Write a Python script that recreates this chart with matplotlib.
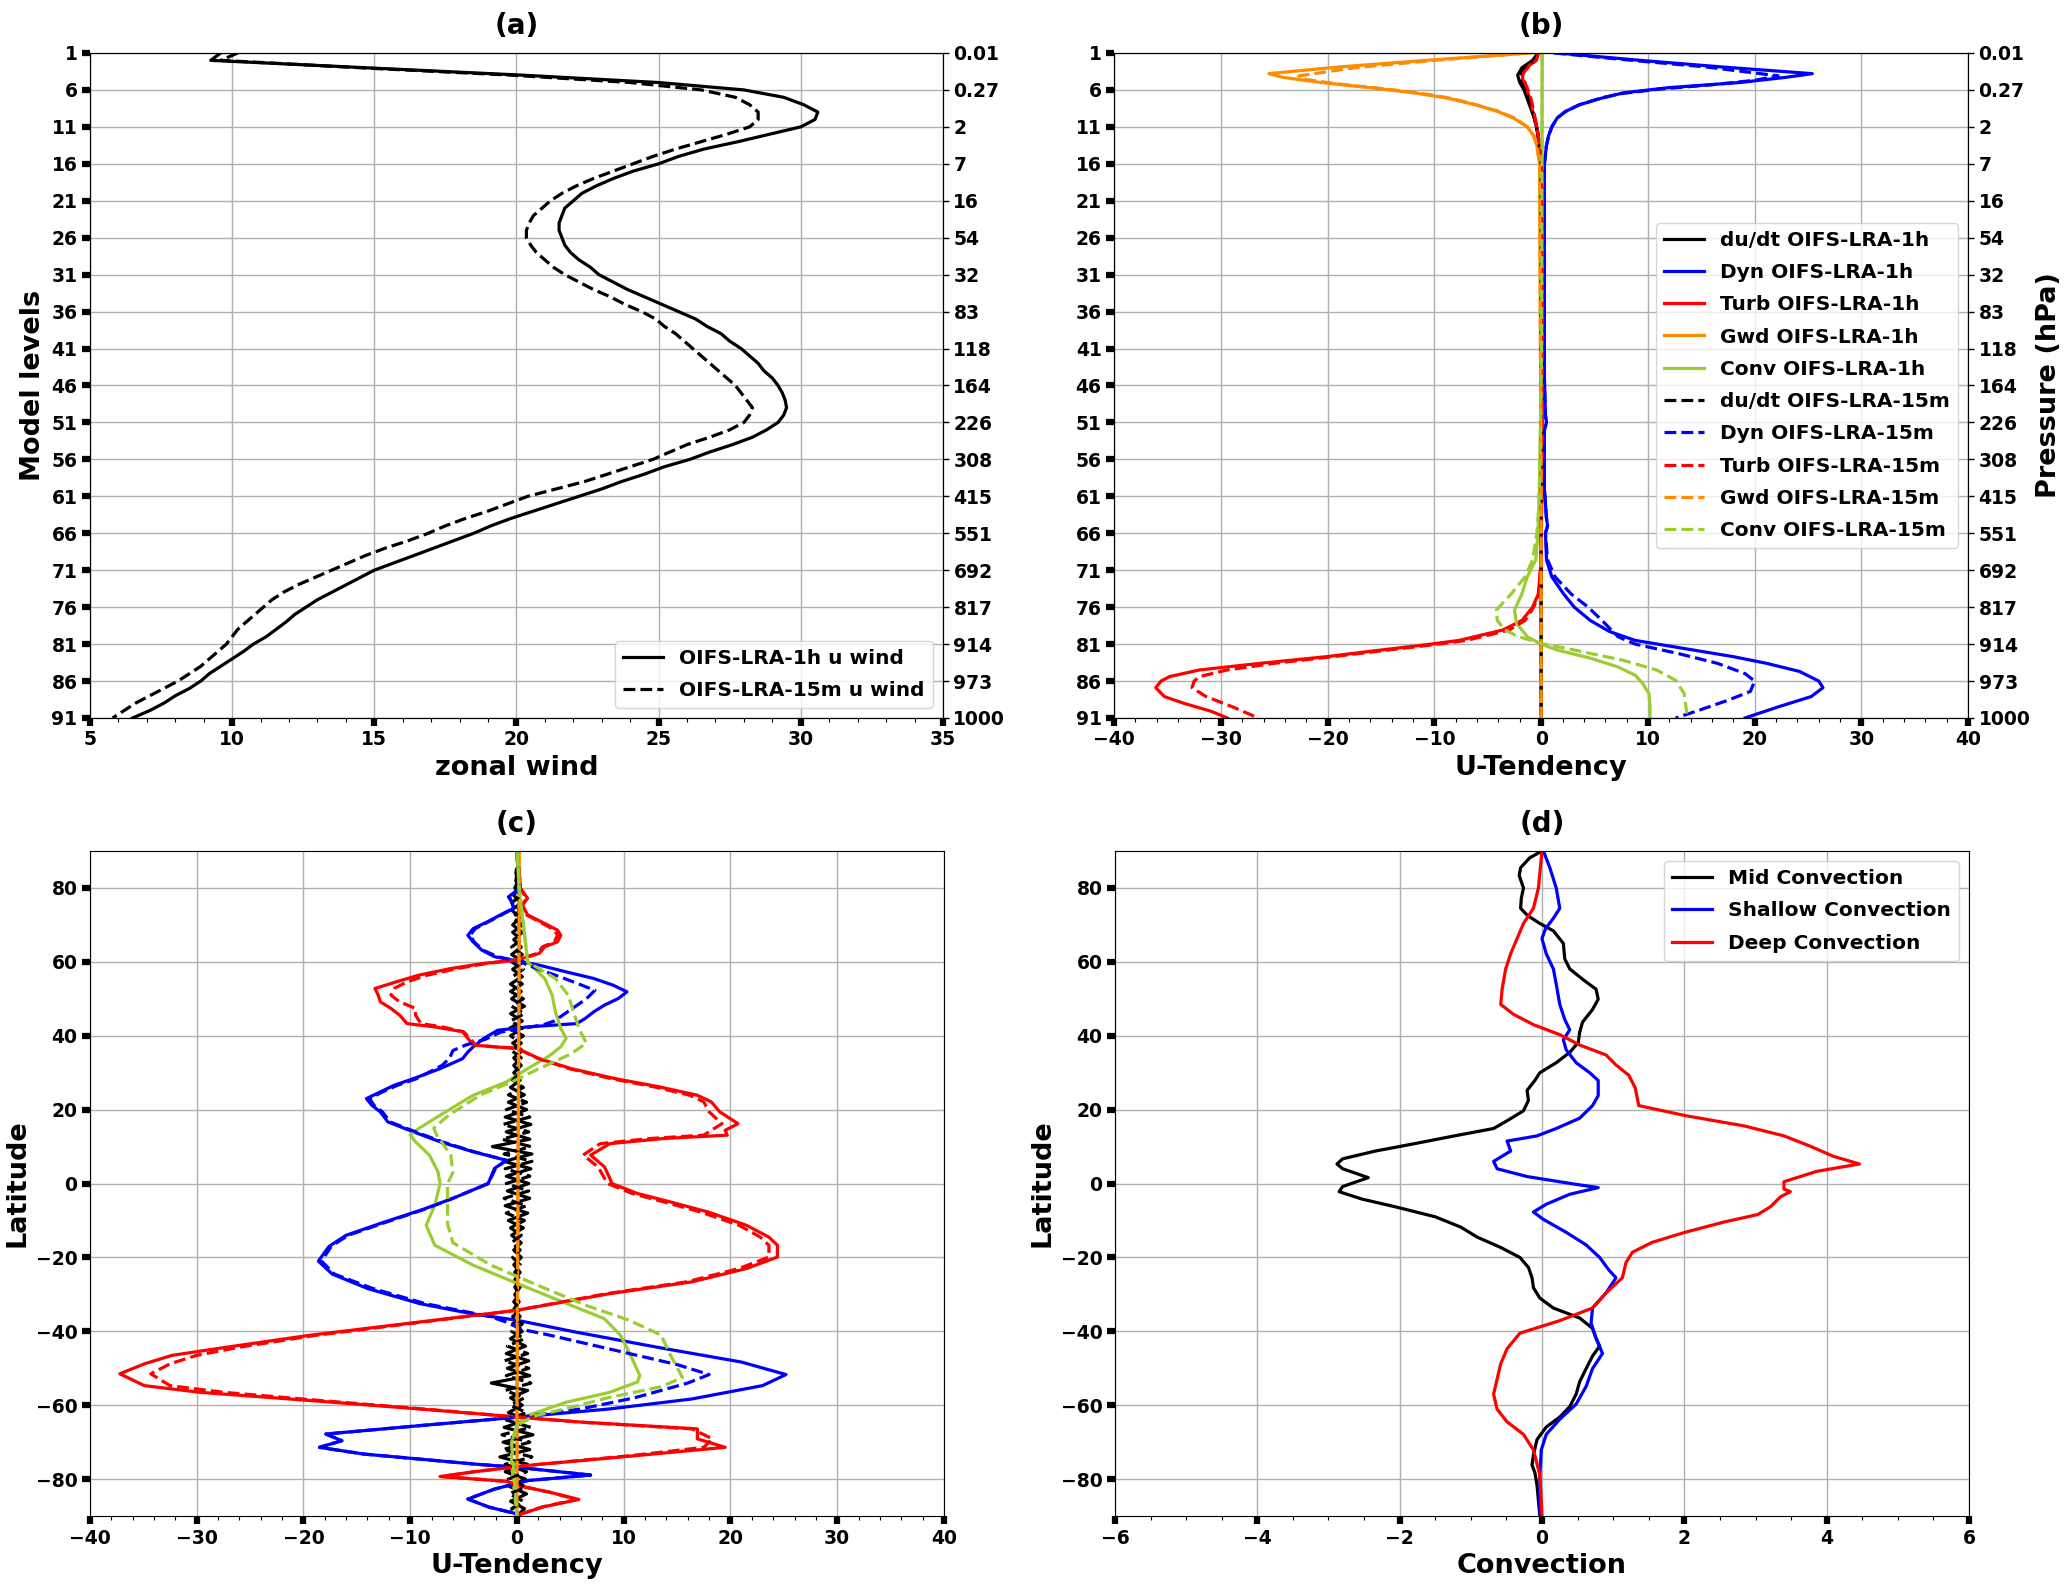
import numpy as np
import matplotlib
matplotlib.use('Agg')
import matplotlib.pyplot as plt
from matplotlib.ticker import AutoMinorLocator

plt.rcParams['font.family'] = ['DejaVu Sans']
plt.rcParams['font.weight'] = 'bold'
plt.rcParams['axes.labelweight'] = 'bold'
plt.rcParams['axes.titleweight'] = 'bold'

# ---------------- panel (a): zonal wind profile ----------------
lev_1h = list(range(1, 92))
u_1h = [9.6, 9.25, 14.7, 20.2, 25.0, 28.0, 29.4, 30.1, 30.6, 30.5,
        30.0, 28.9, 27.8, 26.6, 25.7, 25.0, 24.1, 23.4, 22.8, 22.3,
        22.0, 21.7, 21.6, 21.5, 21.5, 21.6, 21.7, 21.9, 22.2, 22.6,
        22.9, 23.4, 23.9, 24.5, 25.1, 25.7, 26.3, 26.7, 27.2, 27.5,
        27.9, 28.2, 28.5, 28.7, 29.0, 29.2, 29.35, 29.45, 29.5, 29.4,
        29.2, 28.8, 28.3, 27.6, 26.8, 26.1, 25.2, 24.5, 23.7, 23.0,
        22.2, 21.4, 20.6, 19.8, 19.1, 18.5, 17.8, 17.1, 16.4, 15.7,
        15.0, 14.5, 14.0, 13.5, 13.0, 12.6, 12.2, 11.9, 11.55, 11.2,
        10.75, 10.4, 10.0, 9.6, 9.2, 8.9, 8.5, 8.0, 7.6, 7.1, 6.5]
u_15m = [10.2, 9.6, 14.5, 19.8, 24.0, 26.5, 27.7, 28.2, 28.5, 28.5,
         28.2, 27.4, 26.5, 25.6, 24.8, 24.1, 23.4, 22.7, 22.1, 21.6,
         21.2, 20.9, 20.6, 20.45, 20.35, 20.35, 20.5, 20.7, 21.0, 21.3,
         21.7, 22.2, 22.7, 23.3, 23.8, 24.4, 24.9, 25.2, 25.6, 25.9,
         26.2, 26.5, 26.8, 27.1, 27.4, 27.7, 27.9, 28.1, 28.3, 28.2,
         28.0, 27.5, 26.8, 26.0, 25.4, 24.8, 24.0, 23.2, 22.4, 21.4,
         20.4, 19.7, 19.0, 18.2, 17.5, 16.9, 16.2, 15.4, 14.7, 14.1,
         13.5, 12.9, 12.3, 11.8, 11.4, 11.1, 10.8, 10.5, 10.2, 10.0,
         9.8, 9.5, 9.2, 8.9, 8.5, 8.1, 7.6, 7.1, 6.6, 6.2, 5.8]

level_ticks = list(range(1, 92, 5))
pressure_labels = ['0.01', '0.27', '2', '7', '16', '54', '32', '83', '118', '164',
                   '226', '308', '415', '551', '692', '817', '914', '973', '1000']

# ---------------- panel (b): U-tendency vertical profiles ----------------
dudt_lev_1h = [1, 2, 3, 4, 5, 6, 8, 10, 12, 16, 91]
dudt_1h = [-0.3, -0.8, -1.8, -2.2, -2.0, -1.6, -1.1, -0.6, -0.3, 0.0, 0.0]
dudt_lev_15m = [1, 2, 3, 4, 5, 6, 8, 10, 12, 16, 91]
dudt_15m = [-0.3, -0.7, -1.6, -2.0, -1.9, -1.5, -1.0, -0.6, -0.3, 0.0, 0.0]

dyn_lev_1h = [1, 2, 2.9, 3.8, 4.3, 5, 5.7, 6.4, 7.1, 8, 8.9, 9.8, 11, 12.2, 13.5, 16,
              30, 45, 50, 51, 52, 60, 64, 65, 66, 69.6, 71.9, 74.2, 76, 77.8, 79.3,
              80.5, 81.6, 82.7, 83.6, 84.7, 86, 86.9, 88.1, 89.5, 91]
dyn_1h = [1.5, 9.3, 17.0, 25.4, 22.9, 18.6, 11.9, 7.7, 5.7, 3.6, 2.3, 1.5, 1.0, 0.7, 0.5, 0.3,
          0.3, 0.3, 0.4, 0.5, 0.3, 0.3, 0.5, 0.6, 0.4, 0.5, 1.0, 2.1, 3.1, 4.6, 6.4,
          8.8, 13.4, 18.0, 21.1, 24.2, 26.0, 26.4, 25.3, 22.2, 19.1]
dyn_lev_15m = [1, 2, 2.9, 4.1, 4.7, 5.3, 5.9, 6.5, 7.1, 8, 8.9, 9.8, 11, 12.2, 13.5, 16,
               30, 45, 50, 51, 52, 60, 64, 65, 66, 69.6, 71.9, 74.2, 76, 77.8, 80,
               81, 82.3, 83.6, 85, 86, 87.4, 88.6, 89.9, 91]
dyn_15m = [1.2, 8.5, 15.5, 22.2, 20.0, 16.0, 11.0, 7.5, 5.6, 3.6, 2.3, 1.5, 1.0, 0.7, 0.5, 0.3,
           0.3, 0.3, 0.4, 0.5, 0.3, 0.3, 0.5, 0.6, 0.4, 0.6, 1.3, 2.8, 4.4, 5.7, 7.2,
           8.8, 12.9, 16.5, 19.1, 20.0, 19.6, 17.5, 14.9, 12.6]

turb_lev_1h = [1, 2, 2.9, 3.8, 4.7, 6.1, 7.5, 8.9, 11, 13.5, 16, 30, 50, 60, 69.6, 74.2,
               76, 77.8, 79.1, 80.5, 81, 81.8, 82.7, 83.6, 84.5, 85.4, 86, 86.9, 88.1,
               89, 90.1, 91]
turb_1h = [-0.26, -0.5, -1.3, -1.8, -1.7, -1.3, -1.0, -0.8, -0.4, -0.15, 0.0, 0.1, 0.1, 0.05,
           0.0, -0.26, -0.8, -1.8, -3.6, -7.7, -10.3, -15.0, -20.1, -26.3, -32.0, -34.8,
           -35.6, -36.1, -35.3, -33.5, -30.9, -29.4]
turb_lev_15m = [1, 2, 2.9, 3.8, 4.7, 6.1, 7.5, 8.9, 11, 13.5, 16, 30, 50, 60, 69.6, 74.2,
                76, 77.8, 79.1, 80.5, 81, 81.8, 82.7, 83.6, 84.5, 85.4, 86, 86.9, 88.1,
                89.5, 91]
turb_15m = [-0.25, -0.45, -1.2, -1.7, -1.6, -1.2, -0.9, -0.7, -0.4, -0.15, 0.0, 0.1, 0.1, 0.05,
            0.0, -0.2, -0.7, -1.5, -3.0, -7.0, -9.6, -14.3, -19.5, -25.0, -29.4, -32.0,
            -32.5, -32.7, -31.4, -28.9, -26.5]

gwd_lev_1h = [1, 2, 2.9, 3.8, 4.3, 5, 5.7, 6.4, 7.1, 8, 8.9, 9.8, 11, 12.2, 13.5, 16, 30, 60, 91]
gwd_1h = [-1.0, -10.8, -19.0, -25.5, -24.2, -20.6, -16.0, -11.9, -8.8, -6.2, -4.1, -2.6,
          -1.3, -0.7, -0.4, -0.15, -0.1, 0.0, 0.0]
gwd_lev_15m = [1, 2, 3, 4.1, 4.6, 5.2, 5.8, 6.4, 7.1, 8, 8.9, 9.8, 11, 12.2, 13.5, 16, 30, 60, 91]
gwd_15m = [-1.2, -10.0, -17.5, -22.7, -22.0, -19.0, -15.0, -11.5, -8.6, -6.1, -4.0, -2.5,
           -1.3, -0.7, -0.4, -0.15, -0.1, 0.0, 0.0]

conv_lev_1h = [1, 40, 55, 62, 66, 69.6, 71.9, 74.2, 76.4, 78.2, 80, 81, 81.8, 82.9, 84.1,
               85.2, 86.3, 87.7, 89.5, 91]
conv_1h = [0.1, 0.05, -0.1, -0.2, -0.3, -0.5, -1.3, -1.8, -2.5, -2.3, -1.3, 0.0, 1.5, 4.6,
           7.2, 8.8, 9.5, 10.1, 10.2, 10.2]
conv_lev_15m = [1, 40, 55, 62, 66, 69.6, 71.9, 74.2, 76.4, 77.8, 79.1, 80, 80.9, 81.8, 83.2,
                84.5, 85.9, 87.7, 91]
conv_15m = [0.1, 0.05, -0.1, -0.2, -0.4, -0.8, -1.5, -2.8, -4.2, -4.1, -3.4, -2.1, 0.0, 3.1,
            7.7, 10.8, 12.6, 13.4, 13.7]

# ---------------- panel (c): U-tendency vs latitude ----------------
dudt_lat = list(range(90, -91, -2))
dudt_lat_1h = [0.0, 0.0, 0.1, 0.0, -0.1, 0.1, -0.3, 0.4, -0.5, 0.3,
               -0.4, 0.5, -0.3, 0.4, -0.5, 0.6, -0.4, 0.5, -0.6, 0.4,
               -0.5, 0.7, -0.6, 0.5, -0.7, 0.6, -0.4, 0.5, -0.3, 0.4,
               -0.3, 0.3, -0.6, 0.7, -0.8, 0.9, -1.1, 1.3, -1.0, 1.2,
               -2.3, 1.4, -1.2, 1.3, -1.0, 1.1, -0.9, 1.2, -1.1, 1.0,
               -0.8, 0.6, -0.5, 0.4, -0.3, 0.4, -0.3, 0.3, -0.2, 0.3,
               -0.2, 0.2, -0.3, 0.3, -0.4, 0.5, -0.6, 0.8, -1.0, 1.1,
               -0.9, 1.2, -2.4, 1.0, -0.6, 0.5, -0.8, 0.9, -1.2, 1.5,
               -1.3, 1.2, -1.6, 1.0, -1.1, 0.8, -0.7, 0.9, -0.6, 0.7, 0.0]
dudt_lat_15m = [0.0, 0.1, 0.0, -0.1, 0.1, -0.2, 0.4, -0.5, 0.3, -0.4,
                0.5, -0.4, 0.4, -0.5, 0.5, -0.5, 0.6, -0.4, 0.5, -0.6,
                0.6, -0.5, 0.7, -0.6, 0.5, -0.6, 0.4, -0.5, 0.4, -0.3,
                0.3, -0.4, 0.6, -0.8, 0.9, -1.0, 1.2, -1.3, 1.1, -1.4,
                1.3, -1.2, 1.4, -1.1, 1.2, -1.0, 1.1, -1.2, 0.9, -1.0,
                0.7, -0.6, 0.4, -0.5, 0.3, -0.4, 0.3, -0.2, 0.3, -0.2,
                0.2, -0.3, 0.3, -0.4, 0.5, -0.5, 0.7, -0.9, 1.0, -1.2,
                1.1, -1.0, 1.3, -1.1, 0.7, -0.6, 0.9, -1.0, 1.3, -1.4,
                1.2, -1.3, 1.4, -1.1, 0.9, -0.8, 0.8, -0.7, 0.6, -0.5, 0.0]

dyn_lat_1h = [90, 85, 80, 77.6, 76.3, 74.5, 73.1, 70.8, 69, 67.2, 65.4, 63.2, 61.4, 60,
              59.1, 57.3, 55.5, 53.7, 51.9, 50.1, 48.3, 46.5, 44.7, 43.3, 42.4, 41.5,
              39.3, 37, 35.6, 33.8, 31.1, 28.4, 26.6, 24.8, 23, 21.2, 19.4, 16.7, 14,
              11.3, 8.6, 6.3, 4.1, 0, -4, -7, -10.5, -14, -17, -21, -24.5, -28.4,
              -32.5, -35.2, -37, -40.2, -44.5, -48.3, -51.7, -54.7, -58.3, -61, -63,
              -65.5, -67.8, -69.6, -71.4, -73.2, -75.9, -76.8, -78.9, -80.4, -82.7,
              -85.4, -87.6, -89.4, -90]
dyn_c_1h = [0.0, 0.2, 0.3, -0.8, -0.5, -0.3, -1.3, -2.8, -4.1, -4.6, -4.1, -3.3, -2.1, 0.5,
            2.1, 4.6, 7.2, 9.0, 10.3, 9.5, 8.2, 7.2, 6.4, 5.6, 1.0, -1.8,
            -3.1, -4.1, -4.6, -5.1, -7.2, -9.7, -11.5, -12.8, -14.1, -13.6, -12.8, -12.1, -9.7,
            -7.2, -4.1, -1.0, -2.1, -2.7, -6.0, -8.8, -12.5, -16.0, -17.6, -18.6, -17.3, -14.0,
            -9.1, -4.3, 0.0, 5.5, 13.5, 21.0, 25.2, 23.0, 16.4, 8.7, 1.0,
            -9.0, -17.9, -16.4, -18.5, -14.4, -4.1, 0.0, 6.9, 1.0, -2.1,
            -4.6, -2.6, 0.0, 0.0]
dyn_lat_15m = [90, 85, 80, 77.6, 76.3, 74.5, 73.1, 70.8, 69, 67.2, 65.4, 63.2, 61.4, 60,
               58, 56, 54, 52.3, 50, 48, 46, 44, 43, 42, 41, 39, 37.5, 36, 34, 32,
               28.4, 26.6, 24.8, 23, 21.2, 19.4, 16.7, 14, 11.3, 8.6, 6.3, 4.1, 0, -4,
               -7, -10.5, -14, -17, -21, -24.5, -28.4, -32.5, -36, -37.5, -39.5, -41,
               -45, -49, -51.7, -54, -58, -61, -63, -65.5, -67.8, -69.6, -71.4, -73.2,
               -75.9, -76.8, -78.9, -80.4, -82.7, -85.4, -87.6, -89.4, -90]
dyn_c_15m = [0.0, 0.2, 0.3, -0.7, -0.5, -0.3, -1.2, -2.7, -3.9, -4.4, -4.0, -3.2, -1.8, 0.3,
             2.0, 4.0, 5.8, 7.3, 6.5, 5.5, 4.5, 3.5, 2.5, 0.5, -1.5, -3.0, -4.8, -6.0, -6.3,
             -7.0, -9.4, -11.2, -12.6, -13.8, -13.4, -12.6, -11.9, -9.5, -7.0, -4.0, -1.0,
             -2.0, -2.7, -6.0, -8.7, -12.3, -15.8, -17.4, -18.3, -17.1, -13.5, -8.6, -2.5,
             -1.0, 0.5, 3.0, 9.0, 15.0, 18.0, 16.0, 11.0, 6.0, 1.0, -9.0, -17.9, -16.4,
             -18.5, -14.4, -4.1, 0.0, 6.9, 1.0, -2.1, -4.6, -2.6, 0.0, 0.0]

turb_lat_1h = [90, 80, 77.2, 75.4, 72.7, 70.4, 68.6, 67.2, 65.4, 64.1, 62.3, 60.5, 59.6,
               58.2, 56.4, 54.6, 52.8, 51, 49.2, 47.4, 45.6, 43.3, 42.4, 41.1, 39.3,
               37.5, 37, 36.6, 33.8, 31.1, 28.4, 26.2, 23.9, 22.1, 19.4, 16.2, 14.4,
               13.1, 12.2, 10.8, 7.7, 4.5, 1.4, 0, -2.7, -5, -7.7, -11.3, -14.5, -16.7,
               -19.9, -23, -26.6, -29.8, -34.3, -37.5, -41.1, -44.3, -46.5, -48.8, -51.5,
               -54.7, -56.5, -58.7, -61, -63.2, -64.6, -66.4, -69.1, -71.4, -73.6, -76.3,
               -78, -79.3, -80.6, -82, -83.5, -85.5, -87.5, -89.3, -90]
turb_c_1h = [0.0, 0.3, 1.0, 0.5, 1.0, 2.6, 3.8, 4.1, 3.8, 2.6, 2.1, 0.0, -3.1,
             -6.2, -9.2, -11.3, -13.3, -13.0, -12.8, -11.8, -11.0, -10.3, -7.7, -5.1, -4.6,
             -4.1, -2.1, 0.0, 2.1, 5.1, 9.2, 13.3, 16.9, 18.2, 19.0, 20.7, 19.5,
             19.7, 13.8, 8.7, 6.9, 8.2, 8.7, 8.9, 11.3, 14.4, 17.9, 21.5, 23.6, 24.4,
             24.4, 21.5, 16.4, 8.7, 0.0, -9.2, -19.5, -27.2, -32.3, -34.9, -37.2,
             -34.9, -29.7, -19.5, -9.2, 0.0, 6.2, 16.9, 16.9, 19.5, 11.3, 1.0,
             -4.0, -7.2, -1.0, 0.5, 3.0, 5.8, 2.5, 0.5, 0.0]
turb_c_15m = [0.0, 0.3, 0.9, 0.5, 0.9, 2.4, 3.5, 3.8, 3.5, 2.4, 1.9, 0.0, -2.8,
              -5.6, -8.4, -10.3, -11.5, -11.8, -11.0, -9.5, -9.5, -9.0, -7.0, -5.0, -4.4,
              -3.9, -2.0, 0.0, 2.0, 4.9, 8.8, 12.8, 16.2, 17.5, 18.0, 19.2, 18.2,
              17.5, 12.5, 7.8, 6.2, 7.6, 8.2, 8.5, 10.8, 13.8, 17.2, 20.8, 22.8, 23.6,
              23.6, 20.8, 15.9, 8.4, 0.0, -8.9, -18.9, -26.0, -30.0, -32.5, -34.3,
              -32.5, -27.5, -18.5, -8.8, 0.0, 6.0, 16.4, 18.3, 17.5, 10.8, 1.0,
              -4.0, -7.0, -1.0, 0.5, 3.0, 5.6, 2.4, 0.5, 0.0]

conv_lat_1h = [90, 80, 70, 65, 60, 55.5, 51, 46.5, 42, 39.3, 37, 34.7, 31.1, 27.5, 23.9,
               18.5, 14.9, 13.1, 11.3, 7.7, 3.2, 0, -5.9, -11.3, -16.7, -22.1, -27.6,
               -33, -36.6, -41.1, -45.6, -51.9, -53.7, -56.5, -59.2, -62.8, -65.5, -70,
               -75.4, -81.7, -90]
conv_c_1h = [0.0, 0.2, 0.6, 0.8, 1.0, 2.6, 3.3, 3.6, 4.1, 4.6, 4.1, 3.1, 1.0, -1.0, -4.1,
             -7.2, -9.2, -10.0, -9.5, -8.2, -7.4, -7.2, -7.7, -8.5, -7.7, -4.1, 0.5,
             5.1, 8.2, 9.7, 10.5, 11.5, 11.3, 8.7, 4.6, 1.0, 0.0, -0.5,
             -0.5, -0.3, 0.0]
conv_lat_15m = [90, 80, 70, 65, 60, 55.5, 51, 46.5, 42, 38, 35, 31, 27.5, 24, 18.5, 15, 13,
                11, 7.7, 3, 0, -6, -11, -16, -22, -27, -33, -37, -41, -46, -52.5, -55,
                -58, -61, -63, -65.5, -70, -90]
conv_c_15m = [0.0, 0.2, 0.6, 0.8, 1.0, 3.6, 4.8, 5.3, 5.8, 6.5, 5.0, 2.0, -0.5, -3.4, -6.4,
              -7.8, -7.5, -7.0, -6.2, -6.0, -6.5, -6.5, -6.5, -6.0, -2.5, 1.5, 6.5, 10.5,
              13.5, 14.3, 15.5, 13.5, 8.5, 4.5, 1.5, 0.0, -0.5, 0.0]

gwd_lat = [90, 60, 0, -60, -90]
gwd_c_1h = [0.2, 0.2, 0.1, 0.0, 0.0]
gwd_c_15m = [0.2, 0.2, 0.1, 0.0, 0.0]

# ---------------- panel (d): convection by type ----------------
mid_lat = [90, 88.2, 85.5, 83.4, 80, 77.3, 74.5, 72.5, 70.4, 68.4, 65, 60.8, 58.1, 55.3,
           52.6, 49.9, 47.1, 43.7, 41, 38.2, 35.5, 32.7, 30, 27.9, 25.2, 22.5, 19.7, 17,
           14.9, 12.9, 10.8, 8.8, 6.7, 5.3, 4, 1.6, -0.8, -2.2, -4.2, -6.3, -9, -11.8,
           -14.5, -17.3, -20, -22.7, -25.5, -28.2, -31, -33.7, -36.4, -39.2, -41.9, -44,
           -46.7, -50.1, -53.6, -57, -60.4, -63.2, -65.9, -69.3, -73.4, -76.2, -78.2,
           -81.6, -85.8, -90]
mid_conv = [0.0, -0.17, -0.3, -0.32, -0.26, -0.29, -0.3, -0.2, -0.03, 0.16, 0.3, 0.32, 0.39,
            0.57, 0.76, 0.79, 0.71, 0.57, 0.53, 0.51, 0.39, 0.2, -0.03, -0.1, -0.21, -0.19,
            -0.26, -0.49, -0.68, -1.23, -1.79, -2.34, -2.8, -2.88, -2.8, -2.44, -2.8, -2.85,
            -2.53, -2.06, -1.5, -1.14, -0.91, -0.58, -0.31, -0.19, -0.14, -0.12, -0.03, 0.16,
            0.53, 0.71, 0.76, 0.81, 0.71, 0.62, 0.53, 0.48, 0.39, 0.25, 0.06, -0.07, -0.12,
            -0.14, -0.1, -0.07, -0.05, -0.03]
shallow_lat = [90, 85.5, 80, 74.5, 71.8, 69, 66.3, 62.2, 58.1, 54, 48.5, 44.4, 41.6, 38.9,
               36.2, 32.7, 30, 27.9, 23.8, 21.1, 17.7, 14.9, 12.9, 11.5, 8.8, 6, 4, 1.9,
               -0.1, -1.1, -2.9, -5.6, -7.7, -9.7, -13.2, -16.6, -20, -23.4, -25.5, -29.6,
               -33.7, -37.8, -41.9, -46, -50.1, -54.9, -59.7, -63.8, -67.9, -72.1, -78.9, -90]
shallow_conv = [0.02, 0.11, 0.2, 0.25, 0.16, 0.05, 0.0, 0.06, 0.16, 0.2, 0.25, 0.32, 0.39,
                0.3, 0.34, 0.48, 0.67, 0.79, 0.79, 0.71, 0.53, 0.2, -0.07, -0.49, -0.44,
                -0.68, -0.63, -0.21, 0.44, 0.79, 0.39, 0.06, -0.12, 0.02, 0.34, 0.62, 0.81,
                0.94, 1.04, 0.9, 0.71, 0.69, 0.76, 0.85, 0.71, 0.62, 0.48, 0.25, 0.06, -0.01,
                -0.03, -0.03]
deep_lat = [90, 80, 74.5, 70.4, 66.3, 62.2, 58.1, 52.6, 48.5, 45.8, 43, 40.3, 37.5, 34.8,
            32.1, 29.3, 25.9, 21.1, 18.4, 15.6, 12.9, 10.1, 7.4, 5.3, 3.3, 0.5, -1.5, -2.2,
            -3.6, -6.3, -8.4, -10.4, -13.2, -15.9, -18.6, -21.4, -25.5, -29.6, -33.7, -37.1,
            -40.5, -44.7, -48.8, -52.9, -57, -61.1, -64.5, -67.9, -72.1, -78.9, -90]
deep_conv = [0.0, -0.05, -0.12, -0.26, -0.35, -0.44, -0.51, -0.56, -0.58, -0.4, -0.12, 0.25,
             0.53, 0.9, 1.04, 1.22, 1.31, 1.36, 2.01, 2.84, 3.4, 3.77, 4.09, 4.46, 3.86, 3.4,
             3.4, 3.49, 3.35, 3.21, 3.03, 2.56, 2.01, 1.55, 1.27, 1.18, 1.13, 0.9, 0.71, 0.25,
             -0.31, -0.49, -0.58, -0.63, -0.68, -0.63, -0.49, -0.26, -0.12, -0.03, 0.0]

LW = 2.3
TICK_FS = 13.5
LABEL_FS = 19.5
TITLE_FS = 20
LEG_FS = 14.5
LEG_SPACING = 0.66
GREEN = 'yellowgreen'
ORANGE = 'darkorange'


def style_axes(ax):
    ax.grid(True, color='#b0b0b0', linewidth=1.0)
    ax.set_axisbelow(True)
    ax.tick_params(axis='both', which='major', labelsize=TICK_FS, width=4.5, length=5.5)
    ax.tick_params(axis='x', which='minor', width=0.8, length=3)
    ax.xaxis.set_minor_locator(AutoMinorLocator())
    for lab in ax.get_xticklabels() + ax.get_yticklabels():
        lab.set_fontweight('bold')


def add_pressure_axis(ax):
    ax2 = ax.twinx()
    ax2.set_ylim(ax.get_ylim())
    ax2.set_yticks(level_ticks)
    ax2.set_yticklabels(pressure_labels, fontsize=TICK_FS, fontweight='bold')
    ax2.tick_params(axis='y', width=1, length=4)
    return ax2


fig = plt.figure(figsize=(20.67, 15.86), dpi=100)
ax_a = fig.add_axes([0.0435, 0.5473, 0.4127, 0.4193])
ax_b = fig.add_axes([0.5390, 0.5473, 0.4132, 0.4193])
ax_c = fig.add_axes([0.0435, 0.0441, 0.4132, 0.4193])
ax_d = fig.add_axes([0.5394, 0.0441, 0.4132, 0.4193])

# (a)
ax_a.plot(u_1h, lev_1h, color='black', lw=LW, label='OIFS-LRA-1h u wind')
ax_a.plot(u_15m, lev_1h, color='black', lw=LW, ls='--', label='OIFS-LRA-15m u wind')
ax_a.set_xlim(5, 35)
ax_a.set_ylim(91, 1)
ax_a.set_yticks(level_ticks)
ax_a.set_xlabel('zonal wind', fontsize=LABEL_FS, fontweight='bold')
ax_a.set_ylabel('Model levels', fontsize=LABEL_FS, fontweight='bold')
ax_a.set_title('(a)', fontsize=TITLE_FS, fontweight='bold', pad=14)
style_axes(ax_a)
ax_a.legend(loc='lower right', labelspacing=LEG_SPACING,
            prop={'weight': 'bold', 'size': LEG_FS})
add_pressure_axis(ax_a)

# (b)
ax_b.plot(dudt_1h, dudt_lev_1h, color='black', lw=LW, label='du/dt OIFS-LRA-1h')
ax_b.plot(dyn_1h, dyn_lev_1h, color='blue', lw=LW, label='Dyn OIFS-LRA-1h')
ax_b.plot(turb_1h, turb_lev_1h, color='red', lw=LW, label='Turb OIFS-LRA-1h')
ax_b.plot(gwd_1h, gwd_lev_1h, color=ORANGE, lw=LW, label='Gwd OIFS-LRA-1h')
ax_b.plot(conv_1h, conv_lev_1h, color=GREEN, lw=LW, label='Conv OIFS-LRA-1h')
ax_b.plot(dudt_15m, dudt_lev_15m, color='black', lw=LW, ls='--', label='du/dt OIFS-LRA-15m')
ax_b.plot(dyn_15m, dyn_lev_15m, color='blue', lw=LW, ls='--', label='Dyn OIFS-LRA-15m')
ax_b.plot(turb_15m, turb_lev_15m, color='red', lw=LW, ls='--', label='Turb OIFS-LRA-15m')
ax_b.plot(gwd_15m, gwd_lev_15m, color=ORANGE, lw=LW, ls='--', label='Gwd OIFS-LRA-15m')
ax_b.plot(conv_15m, conv_lev_15m, color=GREEN, lw=LW, ls='--', label='Conv OIFS-LRA-15m')
ax_b.set_xlim(-40, 40)
ax_b.set_ylim(91, 1)
ax_b.set_yticks(level_ticks)
ax_b.set_xlabel('U-Tendency', fontsize=LABEL_FS, fontweight='bold')
ax_b.set_title('(b)', fontsize=TITLE_FS, fontweight='bold', pad=14)
style_axes(ax_b)
ax_b.legend(loc='center right', labelspacing=LEG_SPACING,
            prop={'weight': 'bold', 'size': LEG_FS})
ax_b2 = add_pressure_axis(ax_b)
ax_b2.set_ylabel('Pressure (hPa)', fontsize=LABEL_FS, fontweight='bold')

# (c)
ax_c.plot(dudt_lat_1h, dudt_lat, color='black', lw=LW)
ax_c.plot(dyn_c_1h, dyn_lat_1h, color='blue', lw=LW)
ax_c.plot(turb_c_1h, turb_lat_1h, color='red', lw=LW)
ax_c.plot(gwd_c_1h, gwd_lat, color=ORANGE, lw=LW)
ax_c.plot(conv_c_1h, conv_lat_1h, color=GREEN, lw=LW)
ax_c.plot(dudt_lat_15m, dudt_lat, color='black', lw=LW, ls='--')
ax_c.plot(dyn_c_15m, dyn_lat_15m, color='blue', lw=LW, ls='--')
ax_c.plot(turb_c_15m, turb_lat_1h, color='red', lw=LW, ls='--')
ax_c.plot(gwd_c_15m, gwd_lat, color=ORANGE, lw=LW, ls='--')
ax_c.plot(conv_c_15m, conv_lat_15m, color=GREEN, lw=LW, ls='--')
ax_c.set_xlim(-40, 40)
ax_c.set_ylim(-90, 90)
ax_c.set_yticks([-80, -60, -40, -20, 0, 20, 40, 60, 80])
ax_c.set_xlabel('U-Tendency', fontsize=LABEL_FS, fontweight='bold')
ax_c.set_ylabel('Latitude', fontsize=LABEL_FS, fontweight='bold')
ax_c.set_title('(c)', fontsize=TITLE_FS, fontweight='bold', pad=14)
style_axes(ax_c)

# (d)
ax_d.plot(mid_conv, mid_lat, color='black', lw=LW, label='Mid Convection')
ax_d.plot(shallow_conv, shallow_lat, color='blue', lw=LW, label='Shallow Convection')
ax_d.plot(deep_conv, deep_lat, color='red', lw=LW, label='Deep Convection')
ax_d.set_xlim(-6, 6)
ax_d.set_ylim(-90, 90)
ax_d.set_yticks([-80, -60, -40, -20, 0, 20, 40, 60, 80])
ax_d.set_xlabel('Convection', fontsize=LABEL_FS, fontweight='bold')
ax_d.set_ylabel('Latitude', fontsize=LABEL_FS, fontweight='bold')
ax_d.set_title('(d)', fontsize=TITLE_FS, fontweight='bold', pad=14)
style_axes(ax_d)
ax_d.legend(loc='upper right', labelspacing=LEG_SPACING,
            prop={'weight': 'bold', 'size': LEG_FS})

fig.savefig('out.png', dpi=100)
